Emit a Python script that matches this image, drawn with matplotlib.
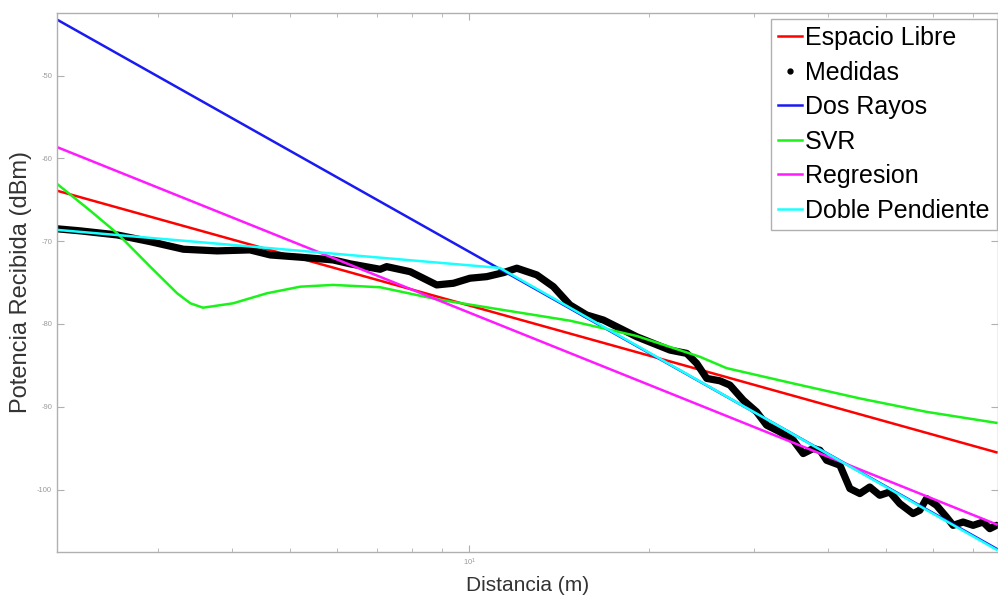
import numpy as np
import matplotlib
matplotlib.use("Agg")
import matplotlib.pyplot as plt
from matplotlib.lines import Line2D
from matplotlib.ticker import LogLocator, NullFormatter, FixedLocator

plt.rcParams['font.family'] = ['Liberation Sans', 'DejaVu Sans']

# ---- datos ----
# medidas (distancia en m, potencia en dBm)
dist_med = [2.03, 2.22, 2.56, 2.91, 3.31, 3.77, 4.28, 4.63, 5.20, 5.90, 6.31, 7.08,
            7.26, 7.95, 8.81, 9.40, 10.02, 10.69, 11.40, 12.01, 12.97, 13.83, 14.75,
            15.73, 16.78, 17.89, 19.09, 20.35, 21.71, 23.16, 24.07, 25.02, 26.33,
            27.37, 28.82, 30.34, 31.54, 33.20, 34.96, 36.33, 37.76, 38.76, 39.77,
            41.87, 43.52, 45.23, 46.99, 48.84, 50.77, 52.77, 55.55, 57.02, 58.52,
            60.82, 63.21, 64.85, 67.41, 70.07, 72.82, 74.73, 76.67]
pot_med = [-68.5, -68.75, -69.24, -70.05, -70.97, -71.17, -71.05, -71.66, -71.93,
           -72.26, -72.74, -73.39, -73.07, -73.68, -75.28, -75.08, -74.47, -74.28,
           -73.80, -73.26, -74.07, -75.49, -77.70, -78.91, -79.52, -80.52, -81.54,
           -82.34, -83.15, -83.55, -84.76, -86.57, -86.86, -87.38, -89.20, -90.61,
           -92.22, -93.03, -94.04, -95.65, -95.04, -95.25, -96.46, -97.06, -99.88,
           -100.48, -99.69, -100.69, -100.29, -101.69, -102.90, -102.50, -101.09,
           -101.90, -103.31, -104.32, -103.92, -104.32, -103.92, -104.72, -104.32]

# SVR
dist_svr = [2.03, 2.31, 2.56, 2.73, 2.91, 3.23, 3.40, 3.57, 4.01, 4.57, 5.20, 5.90,
            7.08, 8.81, 11.40, 14.75, 19.09, 24.37, 27.02, 34.96, 45.23, 58.52, 76.67]
pot_svr = [-63.07, -66.33, -69.03, -71.05, -73.07, -76.29, -77.50, -78.03, -77.50,
           -76.29, -75.49, -75.28, -75.56, -77.01, -78.31, -79.60, -81.45, -83.96,
           -85.33, -87.18, -88.99, -90.61, -91.94]

# modelos (rectas en escala log)
dist_ext = [2.03, 76.7]
pot_libre = [-63.9, -95.5]
pot_rayos = [-43.23, -107.14]
pot_regr = [-58.63, -104.2]
dist_doble = [2.03, 11.25, 76.7]
pot_doble = [-68.63, -73.23, -107.26]

yticks = [-100, -90, -80, -70, -60, -50]

fig = plt.figure(figsize=(9.98, 5.99), dpi=100)
ax = fig.add_axes([0.0571, 0.079, 0.9424, 0.8998])

ax.plot(dist_ext, pot_libre, color=(1, 0, 0), lw=1.8)
ax.plot(dist_med, pot_med, color='k', lw=5.2, solid_capstyle='round',
        solid_joinstyle='round')
ax.plot(dist_ext, pot_rayos, color=(0.1, 0.1, 0.95), lw=1.8)
ax.plot(dist_svr, pot_svr, color=(0.1, 0.95, 0.1), lw=1.8)
ax.plot(dist_ext, pot_regr, color=(1, 0.1, 1), lw=1.8)
ax.plot(dist_doble, pot_doble, color=(0.1, 1, 1), lw=1.8)

ax.set_xscale('log')
ax.set_xlim(2.03, 77.0)
ax.set_ylim(-107.5, -42.4)
ax.yaxis.set_major_locator(FixedLocator(yticks))
ax.set_yticklabels([str(v) for v in yticks])
ax.xaxis.set_major_locator(LogLocator(base=10))
ax.xaxis.set_minor_locator(LogLocator(base=10, subs=np.arange(2, 10)))
ax.xaxis.set_minor_formatter(NullFormatter())

ax.tick_params(which='both', direction='in', top=True, right=True,
               colors='#b0b0b0', labelcolor='#9a9a9a', labelsize=5.5)
ax.tick_params(which='major', length=5, width=0.8)
ax.tick_params(which='minor', length=3, width=0.6)
for s in ax.spines.values():
    s.set_color('#b0b0b0')
    s.set_linewidth(1.0)

ax.set_xlabel('Distancia (m)', fontsize=15, color='#333333', labelpad=6)
ax.set_ylabel('Potencia Recibida (dBm)', fontsize=17, color='#333333', labelpad=4)

# leyenda: "Medidas" solo con el punto
handles = [
    Line2D([], [], color=(1, 0, 0), lw=1.8),
    Line2D([], [], color='k', marker='.', linestyle='none', markersize=7),
    Line2D([], [], color=(0.1, 0.1, 0.95), lw=1.8),
    Line2D([], [], color=(0.1, 0.95, 0.1), lw=1.8),
    Line2D([], [], color=(1, 0.1, 1), lw=1.8),
    Line2D([], [], color=(0.1, 1, 1), lw=1.8),
]
labels = ['Espacio Libre', 'Medidas', 'Dos Rayos', 'SVR', 'Regresion', 'Doble Pendiente']
leg = ax.legend(handles, labels, loc='upper right', bbox_to_anchor=(0.999, 0.989),
                fontsize=18, handlelength=0.95, handletextpad=0.1, labelspacing=0.42,
                borderpad=0.3, borderaxespad=0, fancybox=False, framealpha=1)
leg.get_frame().set_edgecolor('#b0b0b0')
leg.get_frame().set_linewidth(1.0)

fig.savefig('out.png', dpi=100)
